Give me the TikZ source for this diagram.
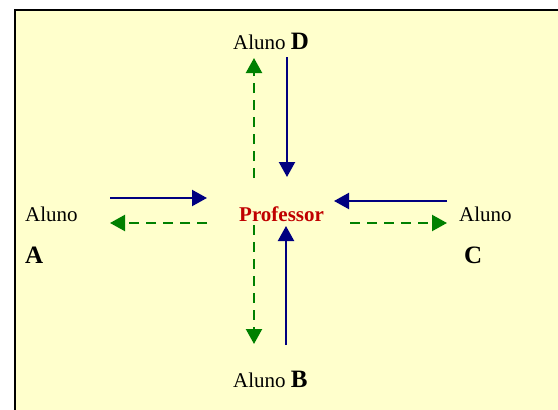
\documentclass[tikz,border=0pt]{standalone}
\usepackage{fontspec}
\setmainfont{Liberation Serif}
\usetikzlibrary{arrows.meta}
\definecolor{fundo}{HTML}{FFFFCC}
\definecolor{azul}{HTML}{000080}
\definecolor{verde}{HTML}{008000}
\definecolor{vermelho}{HTML}{C00000}
\tikzset{
  txt/.style={font=\fontsize{21}{25}\selectfont, inner sep=0pt, anchor=base west},
  letra/.style={font=\fontsize{25}{30}\selectfont\bfseries, inner sep=0pt, anchor=base west},
  arr/.style={line width=2.2pt, azul, -{Triangle[length=15pt,width=16pt]}},
  dasharr/.style={line width=2.2pt, verde, dash pattern=on 10pt off 7pt,
    -{Triangle[length=15pt,width=16pt]}}
}
\begin{document}
\begin{tikzpicture}[x=1pt, y=-1pt]

  \useasboundingbox (0,0) rectangle (558,410);
  \fill[fundo] (15,10) rectangle (558,410);
  \draw[line width=2.5pt] (15,410) -- (15,10) -- (558,10);

  % nodes
  \node[txt, font=\fontsize{21}{25}\selectfont\bfseries, text=vermelho] (prof) at (239,221) {Professor};
  \node[txt] (alunoA) at (25,221) {Aluno};
  \node[letra] (letraA) at (25,263) {A};
  \node[txt] (alunoC) at (459,221) {Aluno};
  \node[letra] (letraC) at (464,263) {C};
  \node[txt] (alunoD) at (233,49) {Aluno \textbf{\fontsize{25}{30}\selectfont D}};
  \node[txt] (alunoB) at (233,387) {Aluno \textbf{\fontsize{25}{30}\selectfont B}};

  % arrow ends
  \coordinate (aOut) at (110,198);  \coordinate (aIn)  at (207,198);
  \coordinate (aRet) at (207,223);  \coordinate (aEnd) at (110,223);
  \coordinate (cOut) at (447,201);  \coordinate (cIn)  at (334,201);
  \coordinate (cRet) at (350,223);  \coordinate (cEnd) at (447,223);
  \coordinate (dOut) at (287,57);   \coordinate (dIn)  at (287,177);
  \coordinate (dRet) at (254,178);  \coordinate (dEnd) at (254,58);
  \coordinate (bOut) at (286,345);  \coordinate (bIn)  at (286,226);
  \coordinate (bRet) at (254,225);  \coordinate (bEnd) at (254,344);

  \draw[arr] (aOut) -- (aIn);
  \draw[dasharr] (aRet) -- (aEnd);
  \draw[arr] (cOut) -- (cIn);
  \draw[dasharr] (cRet) -- (cEnd);
  \draw[arr] (dOut) -- (dIn);
  \draw[dasharr] (dRet) -- (dEnd);
  \draw[arr] (bOut) -- (bIn);
  \draw[dasharr] (bRet) -- (bEnd);

\end{tikzpicture}
\end{document}
